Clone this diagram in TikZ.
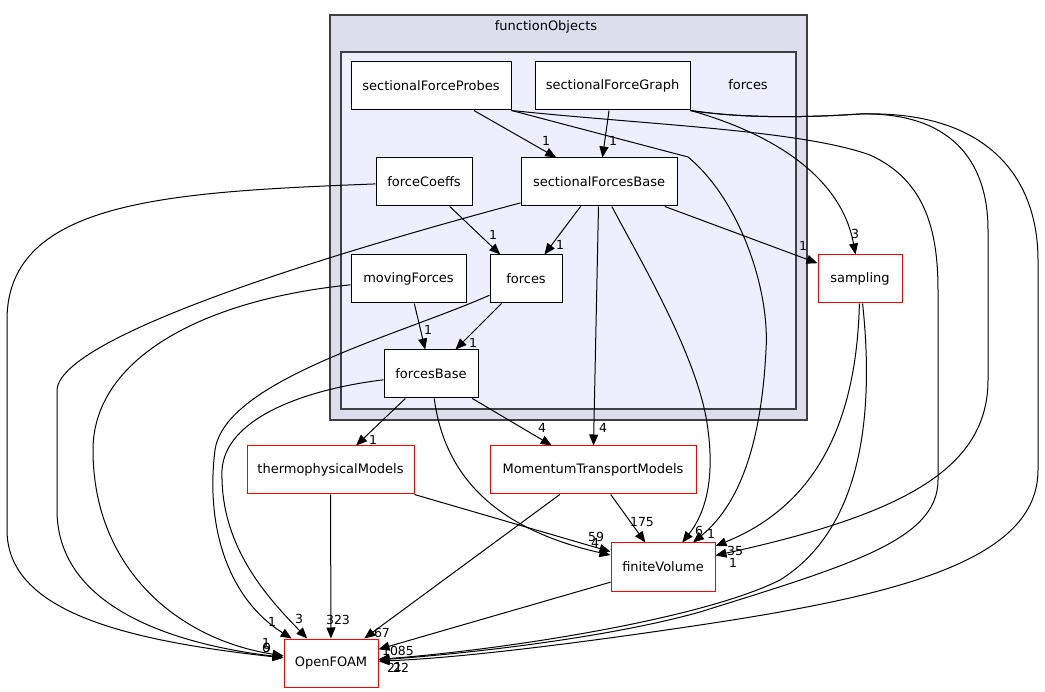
\documentclass[tikz,border=0pt]{standalone}
\usepackage{fontspec}
\setmainfont{DejaVu Sans}
\usetikzlibrary{arrows.meta}
\definecolor{outerfill}{HTML}{DDDDEE}
\definecolor{innerfill}{HTML}{EEEEFF}

\begin{document}
\begin{tikzpicture}[x=1pt,y=-1pt,
    box/.style={draw,fill=white,line width=1pt,minimum height=48pt,inner sep=0pt,font=\fontsize{13}{15}\selectfont},
    ext/.style={box,draw=red},
    dep/.style={line width=1pt,-{Triangle[length=11pt,width=9pt]}},
    lbl/.style={inner sep=0pt,font=\fontsize{12.5}{14}\selectfont}]
    \useasboundingbox (0,0) rectangle (1045,692);
    % directories
    \draw[line width=1.4pt,draw=black!75,fill=outerfill] (330,15) rectangle (807,420);
    \draw[line width=1.4pt,draw=black!75,fill=innerfill] (341,52) rectangle (796,409);
    \node[lbl,font=\fontsize{13}{15}\selectfont] (fo) at (546,27) {functionObjects};
    \node[lbl,font=\fontsize{13}{15}\selectfont] (fd) at (748,85) {forces};

    \node[box,minimum width=160pt] (sfp) at (431,86) {sectionalForceProbes};
    \node[box,minimum width=155pt] (sfg) at (612.5,86) {sectionalForceGraph};
    \node[box,minimum width=96pt] (fc) at (424,182) {forceCoeffs};
    \node[box,minimum width=156pt] (sfb) at (599,182) {sectionalForcesBase};
    \node[box,minimum width=115pt] (mf) at (408.5,279) {movingForces};
    \node[box,minimum width=72pt] (forces) at (526,279) {forces};
    \node[box,minimum width=94pt] (fb) at (431,374) {forcesBase};
    \node[ext,minimum width=84pt] (sampling) at (860,279) {sampling};
    \node[ext,minimum width=167pt] (thermo) at (330.5,470) {thermophysicalModels};
    \node[ext,minimum width=206pt] (mtm) at (593,470) {MomentumTransportModels};
    \node[ext,minimum width=104pt] (fv) at (663,567) {finiteVolume};
    \node[ext,minimum width=94pt] (of) at (331,663) {OpenFOAM};

    % straight dependencies
    \foreach \a/\b in {sfp/sfb,sfg/sfb,fc/forces,sfb/forces,sfb/sampling,sfb/mtm,mf/fb,forces/fb,
        fb/thermo,fb/mtm,thermo/of,thermo/fv,mtm/fv,mtm/of,fv/of}
        \draw[dep] (\a) -- (\b);

    % curved dependencies
    \draw[dep] (sfg.south east) .. controls (760,130) and (840,170) .. (sampling);
    \draw[dep] (sfb) .. controls (640,260) and (700,360) .. (708,430) .. controls (716,490) and (700,520) .. (fv);
    \draw[dep] (sfp.south east) -- (688,157) .. controls (740,200) and (770,290) .. (766,350) .. controls (762,430) and (745,500) .. (fv);
    \draw[dep] (sfp.south east) .. controls (650,125) and (800,130) .. (870,155) .. controls (925,180) and (938,230) .. (938,290) -- (938,480) .. controls (938,540) and (850,565) .. (700,612) .. controls (600,640) and (450,655) .. (of);
    \draw[dep] (sfg.south east) .. controls (740,118) and (800,118) .. (860,114) .. controls (990,110) and (1038,180) .. (1038,260) -- (1038,470) .. controls (1038,560) and (900,595) .. (700,625) .. controls (580,643) and (460,658) .. (of);
    \draw[dep] (sfg.south east) .. controls (740,118) and (800,118) .. (860,114) .. controls (950,112) and (988,160) .. (988,230) -- (988,380) .. controls (988,470) and (900,515) .. (fv);
    \draw[dep] (sampling) .. controls (857,400) and (830,500) .. (fv);
    \draw[dep] (sampling) .. controls (875,420) and (860,530) .. (780,580) .. controls (700,620) and (500,650) .. (of);
    \draw[dep] (fb) .. controls (445,480) and (500,530) .. (fv);
    \draw[dep] (fc) .. controls (170,192) and (7,200) .. (7,320) -- (7,530) .. controls (7,610) and (120,640) .. (of);
    \draw[dep] (sfb) .. controls (400,235) and (60,330) .. (57,390) -- (57,510) .. controls (57,610) and (180,645) .. (of);
    \draw[dep] (mf) .. controls (200,300) and (93,360) .. (93,450) .. controls (93,570) and (180,640) .. (of);
    \draw[dep] (forces) .. controls (400,335) and (225,380) .. (215,450) .. controls (205,530) and (230,600) .. (of);
    \draw[dep] (fb) .. controls (300,390) and (225,420) .. (222,470) .. controls (220,545) and (265,595) .. (of);

    % edge counts
    \foreach \x/\y/\t [count=\i] in {546/141/1,613/141/1,493/235/1,560/245/1,803/246/1,855/234/3,
        428/330/1,473/343/1,373/440/1,542/428/4,603/428/4,596/537/59,595/543/4,642/522/175,
        699/531/6,711/534/1,735/551/35,733/563/1,272/622/1,299/619/3,338/620/323,382/633/67,
        398/651/1085,266/643/1,266/648/6,267/648/9,391/668/2,398/667/1,401/668/22}
        \node[lbl] (n\i) at (\x,\y) {\t};
\end{tikzpicture}
\end{document}
